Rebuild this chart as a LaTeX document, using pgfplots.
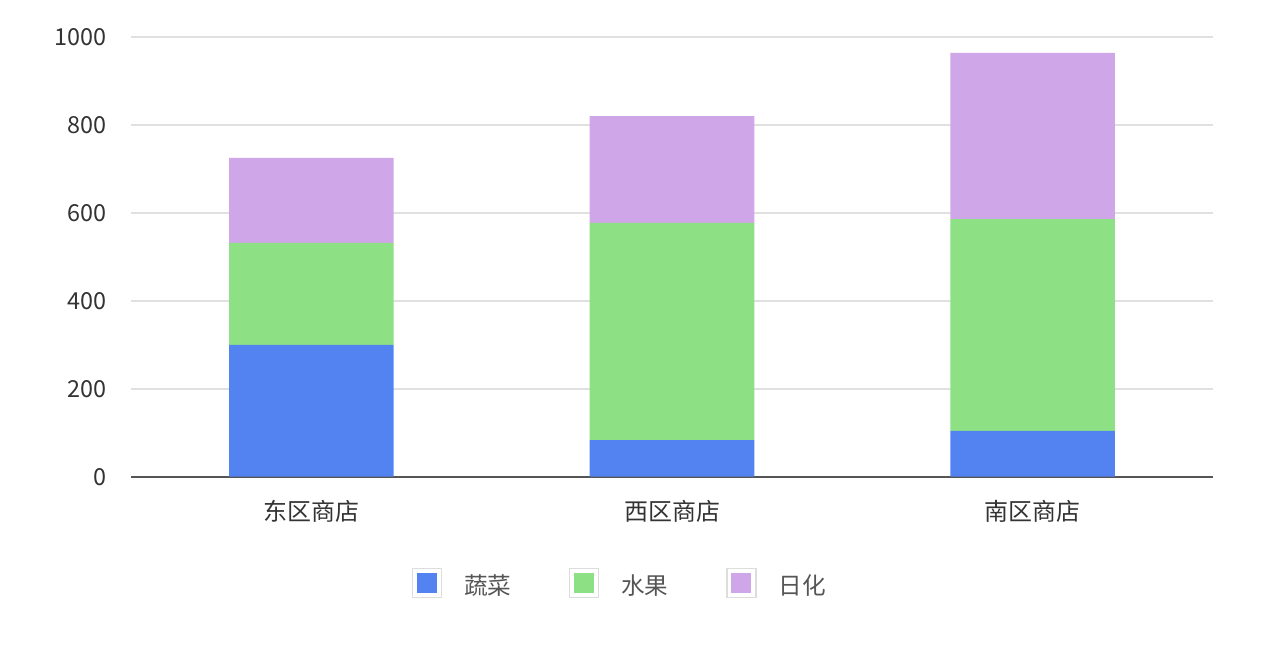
\documentclass[border=0pt]{standalone}
\usepackage{pgfplots}
\pgfplotsset{compat=1.18}
\usepackage{fontspec}
\setmainfont{Noto Sans CJK SC}
\definecolor{shucai}{HTML}{5283F0}
\definecolor{shuiguo}{HTML}{8EE085}
\definecolor{rihua}{HTML}{CFA6E7}
\definecolor{gridc}{HTML}{E0E0E0}
\definecolor{axisc}{HTML}{555555}
\definecolor{txt}{HTML}{333333}
\definecolor{legtxt}{HTML}{555555}
\definecolor{legbox}{HTML}{DDDDDD}
\pgfplotsset{
  legsq/.style={legend image code/.code={
    \draw[legbox, fill=white, line width=0.6pt] (0pt,-5.75pt) rectangle (14.5pt,8.75pt);
    \fill[##1, draw=none] (2.25pt,-3.5pt) rectangle (12.25pt,6.5pt);
  }},
}
\begin{document}
\begin{tikzpicture}
\begin{axis}[
  at={(0,0)}, anchor=south west,
  scale only axis, width=541pt, height=219.85pt,
  ybar stacked, bar width=82.3pt,
  xmin=-0.5, xmax=2.5, ymin=0, ymax=1000,
  xtick={0,1,2}, xticklabels={东区商店,西区商店,南区商店},
  ytick={0,200,400,600,800,1000},
  ymajorgrids, grid style={gridc, line width=0.75pt},
  axis x line*=bottom, axis y line*=left,
  x axis line style={axisc, line width=1pt, -},
  y axis line style={draw=none},
  major tick length=0pt, tick style={draw=none},
  /pgf/number format/assume math mode=true,
  /pgf/number format/1000 sep={},
  yticklabel style={anchor=east, inner sep=0pt, xshift=-12pt, text=txt,
    font=\fontsize{11.7}{13}\selectfont},
  xticklabel style={anchor=base, inner sep=0pt, yshift=-21.8pt, text=txt,
    font=\fontsize{12}{14}\selectfont},
  legend columns=-1,
  legend style={at={(axis description cs:0.2597,-0.2420)}, anchor=west,
    draw=none, fill=none, inner sep=0pt, outer sep=0pt,
    nodes={inner sep=0pt, text=legtxt, font=\fontsize{11.8}{13}\selectfont},
    /tikz/every odd column/.style={column sep=11pt},
    /tikz/every even column/.style={column sep=28.9pt}},
]
\addplot[fill=shucai, draw=none, legsq] coordinates {(0,300) (1,83) (2,104)};
\addplot[fill=shuiguo, draw=none, legsq] coordinates {(0,232) (1,494) (2,482)};
\addplot[fill=rihua, draw=none, legsq] coordinates {(0,193) (1,243) (2,378)};
\legend{蔬菜,水果,日化}
\end{axis}
\pgfresetboundingbox
\path[use as bounding box] (-65.5pt,-85.65pt) rectangle (567.5pt,238.35pt);
\end{tikzpicture}
\end{document}
